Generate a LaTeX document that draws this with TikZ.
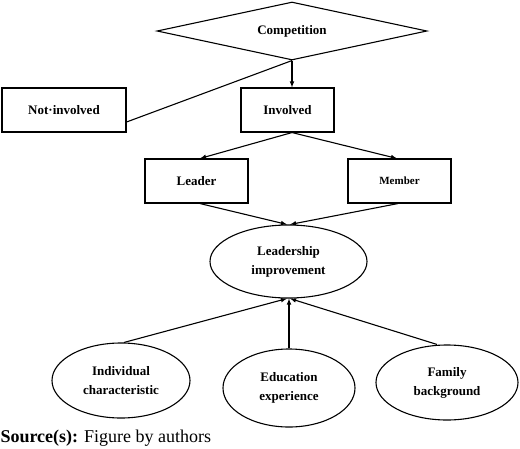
\documentclass[tikz,border=0pt]{standalone}
\usepackage{fontspec}
\setmainfont{Liberation Serif}
\usetikzlibrary{shapes.geometric}
\usetikzlibrary{positioning}
\usetikzlibrary{arrows}
\usetikzlibrary{calc}

\begin{document}
\begin{tikzpicture}[x=1pt,y=-1pt,line width=1.1pt,
        every node/.style={font=\fontsize{13}{19}\selectfont\bfseries,align=center,inner sep=0pt},
        block/.style={draw,rectangle,minimum height=44pt},
        oval/.style={draw,ellipse},
        link/.style={-latex}]
   \useasboundingbox (0,0) rectangle (520,448);
   \node (comp) [draw,diamond,minimum width=270pt,minimum height=58pt,aspect=4.6] at (292,31) {Competition};
   \node (notinv) [block,minimum width=124pt] at (64,110) {Not·involved};
   \node (inv) [block,minimum width=93pt] at (287.5,110) {Involved};
   \node (leader) [block,minimum width=103pt] at (196.5,181) {Leader};
   \node (member) [block,minimum width=103pt,font=\fontsize{11}{13}\selectfont\bfseries] at (399.5,181) {Member};
   \node (lead) [oval,minimum width=157pt,minimum height=73pt] at (288.5,261.5) {Leadership\\improvement};
   \node (indiv) [oval,minimum width=138pt,minimum height=75pt] at (121,380.5) {Individual\\characteristic};
   \node (edu) [oval,minimum width=132pt,minimum height=78pt] at (289,388) {Education\\experience};
   \node (fam) [oval,minimum width=142pt,minimum height=75pt] at (447,382.5) {Family\\background};
   \node (src) [anchor=base west,font=\fontsize{18}{20}\selectfont] at (0,442) {\textbf{Source(s):} Figure by authors};
   % branches from the decision
   \draw (comp.south) -- ([yshift=-12pt]notinv.east);
   \draw[link] (comp.south) -- (comp.south |- inv.north);
   \draw[link] ([xshift=4.5pt]inv.south) -- ([xshift=3.5pt]leader.north);
   \draw[link] ([xshift=4.5pt]inv.south) -- ([xshift=-2.5pt]member.north);
   \draw[link] ([xshift=3.5pt]leader.south) -- ([xshift=-1.5pt]lead.north);
   \draw[link] ([xshift=-1.5pt]member.south) -- ([xshift=1.5pt]lead.north);
   % factors
   \draw[link] ([xshift=3pt]indiv.north) -- ([xshift=-1.5pt]lead.south);
   \draw[link] (edu.north) -- (edu.north |- lead.south);
   \draw[link] ([xshift=-10pt]fam.north) -- ([xshift=1.5pt]lead.south);
\end{tikzpicture}
\end{document}
